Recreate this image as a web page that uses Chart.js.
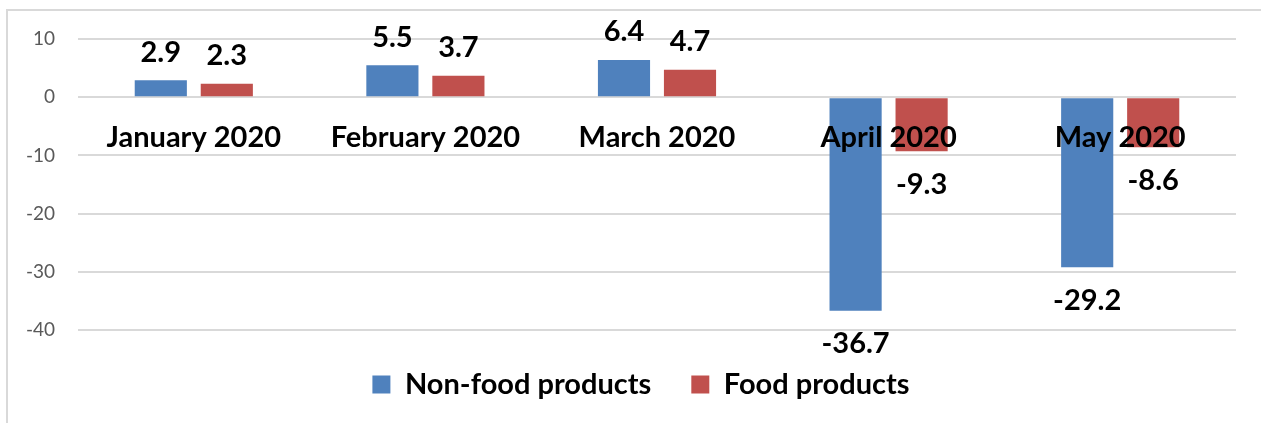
<!DOCTYPE html>
<html>
<head>
<meta charset="utf-8">
<script src="https://cdn.jsdelivr.net/npm/chart.js@4"></script>
<style>
  html, body { margin: 0; padding: 0; width: 1261px; height: 423px; overflow: hidden; background: #fff; }
  #frame { position: absolute; left: 6px; top: 9px; width: 1400px; height: 500px; border: 2px solid #d9d9d9; }
  #wrap { position: absolute; left: 0; top: 0; width: 1261px; height: 423px; }
</style>
</head>
<body>
<div id="frame"></div>
<div id="wrap"><canvas id="myChart"></canvas></div>
<script>
var months = ['January 2020', 'February 2020', 'March 2020', 'April 2020', 'May 2020'];
var nonFood = [2.9, 5.5, 6.4, -36.7, -29.2];
var food = [2.3, 3.7, 4.7, -9.3, -8.6];
var yTicks = [10, 0, -10, -20, -30, -40];

var boldFont = { family: 'Lato', size: 29, weight: 'bold' };

// numbers over / under each bar
var valueLabels = {
    id: 'valueLabels',
    afterLayout: function (chart) {
        // legend sits a bit right of the canvas centre
        chart.legend.left += 13;
        chart.legend.right += 13;
    },
    afterDatasetsDraw: function (chart) {
        var ctx = chart.ctx;
        ctx.save();
        ctx.font = 'bold 29px Lato';
        ctx.fillStyle = '#000';
        ctx.textAlign = 'center';
        ctx.textBaseline = 'middle';
        chart.data.datasets.forEach(function (ds, i) {
            chart.getDatasetMeta(i).data.forEach(function (bar, j) {
                var v = ds.data[j];
                var y = v >= 0 ? bar.y - 28 : bar.y + 33;
                ctx.fillText(v.toFixed(1), bar.x, y);
            });
        });
        ctx.restore();
    }
};

var ctx = document.getElementById('myChart').getContext('2d');
var chart = new Chart(ctx, {
    type: 'bar',
    data: {
        labels: months,
        datasets: [{
            label: 'Non-food products',
            data: nonFood,
            backgroundColor: '#4f81bd',
            categoryPercentage: 0.57,
            barPercentage: 0.79
        }, {
            label: 'Food products',
            data: food,
            backgroundColor: '#c0504d',
            categoryPercentage: 0.57,
            barPercentage: 0.79
        }]
    },
    options: {
        responsive: true,
        maintainAspectRatio: false,
        animation: false,
        layout: { padding: { left: 20, right: 25, top: 39, bottom: 14 } },
        scales: {
            x: {
                position: { y: 0 },
                grid: { display: false },
                border: { display: false },
                ticks: {
                    z: 1,
                    padding: 15,
                    color: '#000',
                    font: boldFont,
                    maxRotation: 0,
                    autoSkip: false
                }
            },
            y: {
                min: -40,
                max: 10,
                afterBuildTicks: function (axis) {
                    axis.ticks = yTicks.map(function (v) { return { value: v }; });
                },
                afterFit: function (axis) {
                    axis.width = 58;
                },
                grid: { color: '#d9d9d9', lineWidth: 2, drawTicks: false },
                border: { display: false },
                ticks: {
                    padding: 23,
                    color: '#595959',
                    font: { family: 'Lato', size: 19 }
                }
            }
        },
        plugins: {
            legend: {
                position: 'bottom',
                labels: {
                    color: '#000',
                    font: boldFont,
                    boxWidth: 18,
                    boxHeight: 18,
                    padding: 40
                }
            },
            tooltip: { enabled: false }
        }
    },
    plugins: [valueLabels]
});
</script>
</body>
</html>
